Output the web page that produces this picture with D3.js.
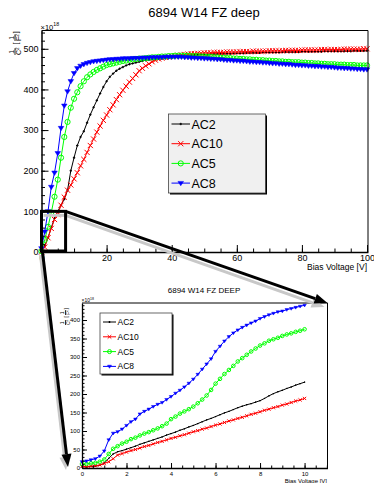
<!DOCTYPE html>
<html>
<head>
<meta charset="utf-8">
<script src="https://cdn.jsdelivr.net/npm/d3@7"></script>
<style>
  body { margin: 0; background: #fff; }
  svg { display: block; font-family: "Liberation Sans", Arial, sans-serif; }
</style>
</head>
<body>
<div id="chart"></div>
<script>
// ---- data (values in units of 1e18 1/F^2) ----
const seriesNames = ['AC2', 'AC10', 'AC5', 'AC8'];

const mainVolts = d3.range(0, 101);
const mainAC2 = [0, 15, 35, 60, 83, 100, 115, 130, 152, 200, 232,
  262, 283, 297, 318, 338, 356, 373, 390, 406, 420,
  431, 439, 446, 451, 455, 459, 462, 464, 466, 468,
  470, 472, 473, 474, 475, 476, 477, 478, 479, 480,
  481, 482, 482, 483, 484, 484, 485, 485, 486, 486,
  486, 487, 487, 487, 488, 488, 488, 488, 489, 489,
  489, 489, 490, 490, 490, 490, 490, 491, 491, 491,
  491, 491, 491, 492, 492, 492, 492, 492, 492, 493,
  493, 493, 493, 493, 493, 493, 494, 494, 494, 494,
  494, 494, 494, 494, 494, 495, 495, 495, 495, 495];
const mainAC10 = [0, 12, 35, 58, 80, 92, 115, 135, 152, 165, 180,
  195, 212, 228, 245, 262, 278, 295, 310, 324, 337,
  350, 362, 375, 387, 398, 408, 418, 427, 436, 446,
  452, 458, 463, 468, 472, 475, 477, 479, 480, 482,
  483, 484, 485, 486, 487, 488, 488, 489, 489, 490,
  490, 490, 491, 491, 491, 491, 492, 492, 492, 492,
  493, 493, 493, 493, 494, 494, 494, 494, 494, 495,
  495, 495, 495, 495, 496, 496, 496, 496, 496, 497,
  497, 497, 497, 497, 497, 498, 498, 498, 498, 498,
  498, 498, 499, 499, 499, 499, 499, 499, 500, 500];
const mainAC5 = [2, 30, 62, 97, 136, 178, 232, 283, 320, 355, 377,
  393, 408, 420, 430, 437, 443, 448, 452, 456, 460,
  462, 464, 466, 468, 470, 471, 473, 474, 475, 476,
  476, 477, 478, 479, 479, 480, 481, 481, 482, 482,
  483, 483, 483, 483, 483, 482, 482, 482, 481, 481,
  480, 480, 479, 479, 478, 478, 477, 477, 476, 476,
  475, 475, 474, 474, 473, 473, 472, 472, 471, 471,
  470, 470, 469, 469, 468, 468, 467, 467, 467, 466,
  466, 465, 465, 464, 464, 463, 463, 462, 462, 462,
  461, 461, 461, 460, 460, 460, 459, 459, 459, 459];
const mainAC8 = [9, 50, 100, 160, 195, 243, 305, 360, 395, 420, 440,
  452, 458, 462, 465, 467, 469, 470, 471, 472, 473,
  474, 474, 475, 475, 476, 476, 476, 477, 477, 477,
  478, 478, 478, 479, 479, 479, 479, 480, 480, 480,
  480, 480, 480, 479, 479, 478, 478, 477, 477, 476,
  476, 475, 475, 474, 474, 473, 472, 472, 471, 471,
  470, 470, 469, 468, 468, 467, 467, 466, 466, 465,
  464, 464, 463, 463, 462, 462, 461, 460, 460, 459,
  459, 458, 458, 457, 457, 456, 456, 455, 455, 454,
  453, 453, 452, 452, 451, 451, 450, 450, 449, 449];

const insetVolts = d3.range(0, 51).map(i => +(i * 0.2).toFixed(1));
const insetAC2 = [3, 3, 4, 5, 7, 13, 26, 38, 44, 47,
  51, 55, 59, 64, 68, 72, 76, 80, 84, 89,
  93, 97, 102, 106, 111, 115, 120, 125, 130, 134,
  139, 144, 149, 153, 158, 163, 167, 171, 174, 178,
  182, 188, 195, 201, 206, 210, 215, 219, 224, 228, 232];
const insetAC10 = [4, 4, 5, 6, 8, 12, 17, 25, 35, 39,
  43, 47, 50, 54, 58, 61, 65, 69, 72, 76,
  80, 83, 87, 90, 94, 98, 101, 105, 108, 112,
  116, 119, 123, 127, 130, 134, 137, 141, 145, 148,
  152, 156, 159, 163, 166, 170, 173, 177, 181, 184, 188];
const insetAC5 = [11, 11, 13, 14, 17, 23, 38, 52, 59, 66,
  71, 78, 82, 88, 93, 97, 102, 107, 113, 120,
  132, 139, 147, 153, 159, 166, 175, 185, 196, 211,
  228, 241, 254, 265, 276, 288, 297, 306, 315, 323,
  331, 337, 344, 348, 352, 357, 361, 364, 368, 371, 375];
const insetAC8 = [17, 19, 22, 25, 32, 46, 76, 94, 98, 105,
  115, 125, 132, 146, 153, 159, 166, 172, 177, 185,
  193, 202, 210, 219, 229, 240, 253, 267, 281, 295,
  315, 329, 343, 355, 365, 373, 380, 386, 392, 397,
  404, 409, 414, 418, 422, 424, 428, 431, 434, 437, 440];

const mainYTicks = [0, 100, 200, 300, 400, 500];
const mainXTicks = [0, 20, 40, 60, 80, 100];
const insetYTicks = [0, 50, 100, 150, 200, 250, 300, 350, 400];
const insetXTicks = [0, 2, 4, 6, 8, 10];

// ---- styles ----
const colors = { AC2: '#000000', AC10: '#ff0000', AC5: '#00ff00', AC8: '#0000ff' };
const markers = { AC2: 'plus', AC10: 'x', AC5: 'circle', AC8: 'tri' };

const W = 374, H = 483;
const svg = d3.select('#chart').append('svg')
  .attr('width', W).attr('height', H);

function markerPath(type, s) {
  if (type === 'tri') return `M${-s},${-s * 0.6}L${s},${-s * 0.6}L0,${s * 0.95}Z`;
  if (type === 'x') return `M${-s},${-s}L${s},${s}M${-s},${s}L${s},${-s}`;
  if (type === 'plus') return `M${-s},0H${s}M0,${-s}V${s}`;
  return '';
}

function drawMarker(g, type, cx, cy, s, color) {
  if (type === 'circle') {
    g.append('circle').attr('cx', cx).attr('cy', cy).attr('r', s)
      .attr('fill', 'none').attr('stroke', color).attr('stroke-width', 1);
  } else {
    g.append('path').attr('transform', `translate(${cx},${cy})`)
      .attr('d', markerPath(type, s))
      .attr('fill', type === 'tri' ? color : 'none')
      .attr('stroke', color).attr('stroke-width', type === 'tri' ? 0.5 : 1);
  }
}

function drawAxes(g, x, y, o) {
  // y axis
  const ya = g.append('g').attr('transform', `translate(${x.range()[0]},0)`)
    .call(d3.axisLeft(y).tickValues(o.yTicks).tickSizeInner(-o.major).tickSizeOuter(0)
      .tickPadding(o.yPad).tickFormat(d3.format('d')));
  ya.attr('font-family', null).attr('font-size', o.fs);
  ya.select('.domain').attr('stroke-width', o.axisW);
  g.append('g').attr('transform', `translate(${x.range()[0]},0)`)
    .call(d3.axisLeft(y).tickValues(o.yMinor).tickSizeInner(-o.minor).tickSizeOuter(0).tickFormat(''))
    .select('.domain').remove();
  // x axis
  const xa = g.append('g').attr('transform', `translate(0,${y.range()[0]})`)
    .call(d3.axisBottom(x).tickValues(o.xTicks).tickSizeInner(-o.major).tickSizeOuter(0)
      .tickPadding(o.xPad).tickFormat(d3.format('d')));
  xa.attr('font-family', null).attr('font-size', o.fs);
  xa.select('.domain').attr('stroke-width', o.axisW);
  g.append('g').attr('transform', `translate(0,${y.range()[0]})`)
    .call(d3.axisBottom(x).tickValues(o.xMinor).tickSizeInner(-o.minor).tickSizeOuter(0).tickFormat(''))
    .select('.domain').remove();
  // frame top/right
  g.append('path')
    .attr('d', `M${x.range()[0]},${y.range()[1]}H${x.range()[1]}V${y.range()[0]}`)
    .attr('fill', 'none').attr('stroke', '#000').attr('stroke-width', 1);
}

function drawSeries(g, x, y, volts, vals, name, s) {
  const line = d3.line().x((d, i) => x(volts[i])).y(d => y(d));
  g.append('path').datum(vals).attr('d', line)
    .attr('fill', 'none').attr('stroke', colors[name]).attr('stroke-width', 1);
  const mg = g.append('g');
  vals.forEach((v, i) => drawMarker(mg, markers[name], x(volts[i]), y(v), s[name], colors[name]));
}

function drawYTitle(g, cx, yb, fs) {
  // rotated  1/C^2 [1/F^2]
  const t = g.append('g').attr('transform', `translate(${cx},${yb}) rotate(-90)`)
    .attr('font-size', fs);
  const frac = (x0, den) => {
    t.append('text').attr('x', x0 + fs * 0.45).attr('y', -1.5).attr('text-anchor', 'middle').text('1');
    t.append('line').attr('x1', x0).attr('x2', x0 + fs * 0.95).attr('y1', 0).attr('y2', 0)
      .attr('stroke', '#000').attr('stroke-width', 0.8);
    const d = t.append('text').attr('x', x0).attr('y', fs * 0.85);
    d.append('tspan').text(den);
    d.append('tspan').attr('dy', -fs * 0.35).attr('font-size', fs * 0.65).text('2');
  };
  frac(0, 'C');
  t.append('text').attr('x', fs * 1.5).attr('y', fs * 0.45).text('[');
  frac(fs * 2.0, 'F');
  t.append('text').attr('x', fs * 3.1).attr('y', fs * 0.45).text(']');
}

function drawExp(g, x, y, fs) {
  const t = g.append('text').attr('x', x).attr('y', y).attr('font-size', fs);
  t.append('tspan').text('\u00d710');
  t.append('tspan').attr('dy', -fs * 0.45).attr('font-size', fs * 0.7).text('18');
}

function drawLegend(g, box, items, o) {
  g.append('rect').attr('x', box.x + 1.5).attr('y', box.y + 1.5)
    .attr('width', box.w).attr('height', box.h).attr('fill', '#000');
  g.append('rect').attr('x', box.x).attr('y', box.y).attr('width', box.w).attr('height', box.h)
    .attr('fill', o.fill).attr('stroke', '#444').attr('stroke-width', 0.8);
  items.forEach((name, i) => {
    const yy = box.y + o.first + i * o.step;
    g.append('line').attr('x1', box.x + o.l1).attr('x2', box.x + o.l2)
      .attr('y1', yy).attr('y2', yy).attr('stroke', colors[name]).attr('stroke-width', 1);
    drawMarker(g, markers[name], box.x + (o.l1 + o.l2) / 2, yy, o.ms[name], colors[name]);
    g.append('text').attr('x', box.x + o.tx).attr('y', yy).attr('dy', '0.36em')
      .attr('font-size', o.fs).attr('fill', '#000').text(name);
  });
}

// ================= main chart =================
const mx = d3.scaleLinear().domain([0, 100.3]).range([41.5, 368]);
const my = d3.scaleLinear().domain([0, 545]).range([252, 30.5]);
const mainG = svg.append('g');

svg.append('text').attr('x', 204).attr('y', 16.5).attr('text-anchor', 'middle')
  .attr('font-size', 13).text('6894 W14 FZ deep');

const mainData = { AC2: mainAC2, AC10: mainAC10, AC5: mainAC5, AC8: mainAC8 };
const mainMs = { AC2: 1.2, AC10: 2.6, AC5: 2.6, AC8: 2.8 };
seriesNames.forEach(n => drawSeries(mainG, mx, my, mainVolts, mainData[n], n, mainMs));

drawAxes(mainG, mx, my, {
  yTicks: mainYTicks, yMinor: d3.range(0, 545, 20), xTicks: mainXTicks, xMinor: d3.range(0, 101, 5),
  major: 7, minor: 3.5, fs: 9, yPad: 3, xPad: 3, axisW: 1.5
});
mainG.append('text').attr('x', 367).attr('y', 270).attr('text-anchor', 'end')
  .attr('font-size', 8.5).text('Bias Voltage [V]');
drawExp(mainG, 40.5, 29.5, 7.5);
drawYTitle(mainG, 15, 55, 7);

drawLegend(mainG, { x: 168.5, y: 114, w: 97, h: 79 }, seriesNames, {
  fill: '#f0f0f0', first: 10, step: 19.7, l1: 3, l2: 21.5, tx: 23, fs: 12.5,
  ms: { AC2: 1.2, AC10: 2.6, AC5: 2.6, AC8: 2.8 }
});

// ================= inset chart =================
const ix = d3.scaleLinear().domain([0, 11.03]).range([82, 327.5]);
const iy = d3.scaleLinear().domain([0, 446]).range([468, 303]);
const insetG = svg.append('g');

svg.append('text').attr('x', 204).attr('y', 293).attr('text-anchor', 'middle')
  .attr('font-size', 8).text('6894 W14 FZ DEEP');

const insetData = { AC2: insetAC2, AC10: insetAC10, AC5: insetAC5, AC8: insetAC8 };
const insetMs = { AC2: 0.6, AC10: 1.6, AC5: 1.8, AC8: 1.8 };
seriesNames.forEach(n => drawSeries(insetG, ix, iy, insetVolts, insetData[n], n, insetMs));

drawAxes(insetG, ix, iy, {
  yTicks: insetYTicks, yMinor: d3.range(0, 446, 10), xTicks: insetXTicks, xMinor: d3.range(0, 11.01, 0.5),
  major: 5, minor: 2.5, fs: 6, yPad: 2, xPad: 3.5, axisW: 1.3
});
insetG.append('text').attr('x', 327).attr('y', 483).attr('text-anchor', 'end')
  .attr('font-size', 6).text('Bias Voltage [V]');
drawExp(insetG, 81.5, 302, 5);
drawYTitle(insetG, 65.5, 325, 5);

drawLegend(insetG, { x: 100, y: 313, w: 72, h: 61 }, seriesNames, {
  fill: '#ffffff', first: 9, step: 14.8, l1: 3, l2: 16, tx: 17.5, fs: 8.5,
  ms: { AC2: 1, AC10: 1.8, AC5: 2, AC8: 2 }
});

// ================= zoom annotation =================
const ann = svg.append('g');
function arrow(g, p0, p1, color, len, hw) {
  const dx = p1[0] - p0[0], dy = p1[1] - p0[1];
  const L = Math.hypot(dx, dy), ux = dx / L, uy = dy / L;
  const bx = p1[0] - ux * len, by = p1[1] - uy * len;
  g.append('line').attr('x1', p0[0]).attr('y1', p0[1]).attr('x2', bx).attr('y2', by)
    .attr('stroke', color).attr('stroke-width', 3);
  g.append('path')
    .attr('d', `M${p1[0]},${p1[1]}L${bx - uy * hw},${by + ux * hw}L${bx + uy * hw},${by - ux * hw}Z`)
    .attr('fill', color);
}
const bx0 = mx(0), bx1 = mx(7.4), by0 = my(0), by1 = my(100);
const topStart = [bx1, by1], topTip = [ix.range()[1], iy.range()[1]];
const leftStart = [bx0 + 1, by0], leftTip = [ix.range()[0] - 14, iy.range()[0] - 1];
// shadows
ann.append('line').attr('x1', bx0 + 2).attr('x2', bx1).attr('y1', by1 + 4).attr('y2', by1 + 4)
  .attr('stroke', '#c8c8c8').attr('stroke-width', 3);
arrow(ann, [topStart[0], topStart[1] + 4], [topTip[0] - 3, topTip[1] + 4], '#c8c8c8', 13, 5);
arrow(ann, [leftStart[0] - 2, leftStart[1] + 3], [leftTip[0] - 2, leftTip[1] + 3], '#c8c8c8', 13, 5);
// black
ann.append('rect').attr('x', bx0).attr('y', by1).attr('width', bx1 - bx0).attr('height', by0 - by1 - 1)
  .attr('fill', 'none').attr('stroke', '#000').attr('stroke-width', 3);
arrow(ann, topStart, topTip, '#000', 13, 5);
arrow(ann, leftStart, leftTip, '#000', 13, 5);
</script>
</body>
</html>
